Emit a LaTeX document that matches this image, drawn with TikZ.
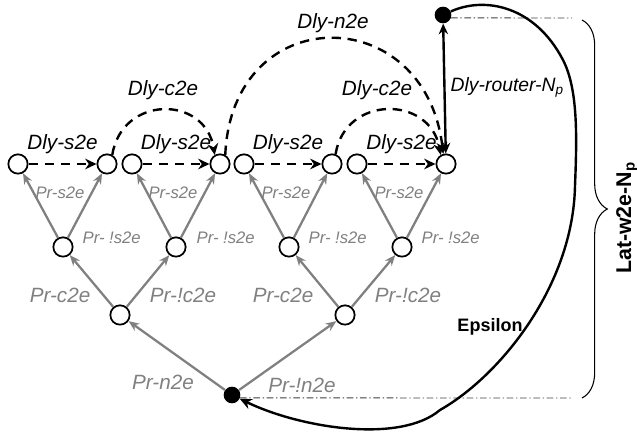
\documentclass[tikz,border=0pt]{standalone}
\usepackage{fontspec}
\setmainfont{Liberation Sans}
\usetikzlibrary{arrows.meta,decorations.pathreplacing}
\definecolor{prgray}{RGB}{128,128,128}

\begin{document}
\begin{tikzpicture}[x=0.75pt,y=0.75pt,
  every node/.style={font=\fontsize{15.5}{18}\selectfont\itshape},
  hop/.style={draw,circle,fill=white,line width=1.3pt,minimum size=14.5pt,inner sep=0pt},
  blackdot/.style={circle,fill=black,minimum size=12.5pt,inner sep=0pt},
  pr/.style={-{Stealth[length=8pt,width=6.5pt]},prgray,line width=1.7pt},
  dly/.style={-{Stealth[length=8.5pt,width=8pt]},dash pattern=on 7pt off 5pt,line width=1.8pt},
  prlbl/.style={text=prgray},
  prsmall/.style={text=prgray,font=\fontsize{12.5}{15}\selectfont\itshape},
  guide/.style={dash pattern=on 5pt off 2pt on 1pt off 2pt,line width=0.7pt,black!75}]
\useasboundingbox (0,0) rectangle (637,436);
% switches (top), chassis (middle), nodes (lower)
\node[hop] (t1) at (18,272) {};
\node[hop] (t2) at (107,272) {};
\node[hop] (t3) at (132,272) {};
\node[hop] (t4) at (220,272) {};
\node[hop] (t5) at (244,272) {};
\node[hop] (t6) at (332,272) {};
\node[hop] (t7) at (357,272) {};
\node[hop] (t8) at (446,272) {};
\node[hop] (m1) at (63,189) {};
\node[hop] (m2) at (176,189) {};
\node[hop] (m3) at (289,189) {};
\node[hop] (m4) at (402,189) {};
\node[hop] (l1) at (120,121) {};
\node[hop] (l2) at (345,121) {};
\node[blackdot] (src) at (232,41) {};
\node[blackdot] (rtr) at (443,421) {};
\coordinate (tend) at (572,418);
\coordinate (bend) at (572,38);

% probability tree
\draw[pr] (m1) -- (t1);
\draw[pr] (m1) -- (t2);
\draw[pr] (m2) -- (t3);
\draw[pr] (m2) -- (t4);
\draw[pr] (m3) -- (t5);
\draw[pr] (m3) -- (t6);
\draw[pr] (m4) -- (t7);
\draw[pr] (m4) -- (t8);
\draw[pr] (l1) -- (m1);
\draw[pr] (l1) -- (m2);
\draw[pr] (l2) -- (m3);
\draw[pr] (l2) -- (m4);
\draw[pr] (src) -- (l1);
\draw[pr] (src) -- (l2);

\node[prsmall] (ps1) at (60,243) {Pr-s2e};
\node[prsmall] (ps2) at (173,243) {Pr-s2e};
\node[prsmall] (ps3) at (286,243) {Pr-s2e};
\node[prsmall] (ps4) at (399,243) {Pr-s2e};
\node[prsmall,anchor=west] (pn1) at (78,198) {Pr- !s2e};
\node[prsmall,anchor=west] (pn2) at (192,198) {Pr- !s2e};
\node[prsmall,anchor=west] (pn3) at (304,198) {Pr- !s2e};
\node[prsmall,anchor=west] (pn4) at (417,198) {Pr- !s2e};
\node[prlbl] (pc1) at (60,141) {Pr-c2e};
\node[prlbl] (pc2) at (283,141) {Pr-c2e};
\node[prlbl] (pnc1) at (183,141) {Pr-!c2e};
\node[prlbl] (pnc2) at (408,141) {Pr-!c2e};
\node[prlbl] (pnn) at (163,54) {Pr-n2e};
\node[prlbl] (pnotn) at (302,51) {Pr-!n2e};

% delays
\draw[dly] (t1) -- (t2) node[midway,above=3.5pt] (ds1) {Dly-s2e};
\draw[dly] (t3) -- (t4) node[midway,above=3.5pt] (ds2) {Dly-s2e};
\draw[dly] (t5) -- (t6) node[midway,above=3.5pt] (ds3) {Dly-s2e};
\draw[dly] (t7) -- (t8) node[midway,above=3.5pt] (ds4) {Dly-s2e};
\draw[dly] (t2.60) .. controls (122,341) and (205,341) .. (t4.120);
\draw[dly] (t6.70) .. controls (345,341) and (430,341) .. (t8.120);
\draw[dly] (t4.60) .. controls (232,436) and (425,436) .. (t8.105);
\node (dc1) at (163,346) {Dly-c2e};
\node (dc2) at (377,346) {Dly-c2e};
\node (dn) at (333,413) {Dly-n2e};
\draw[{Stealth[length=8pt,width=7pt]}-{Stealth[length=8pt,width=7pt]},line width=1.8pt] (rtr) -- (t8);
\node[anchor=west,font=\fontsize{14.5}{17}\selectfont\itshape] (dr) at (446,349) {Dly-router-N\textsubscript{p}};

% latency bracket
\draw[guide] (rtr.-20) -- (tend);
\draw[guide] (src.-20) -- (bend);
\draw[decorate,decoration={brace,amplitude=19pt},line width=0.8pt] (582,416) -- (582,38);
\node[rotate=90,font=\fontsize{16}{19}\selectfont\bfseries] (lat) at (627,218) {Lat-w2e-N\textsubscript{p}};
\draw[line width=1.8pt,-{Stealth[length=9pt,width=8pt]}] (rtr) .. controls (485,440) and (535,430) .. (563,376)
  .. controls (578,347) and (577,300) .. (575,250)
  .. controls (573,150) and (500,60) .. (440,26)
  .. controls (400,-8) and (300,8) .. (src);
\node[font=\fontsize{13.5}{16}\selectfont\bfseries] (eps) at (490,109) {Epsilon};
\end{tikzpicture}
\end{document}
